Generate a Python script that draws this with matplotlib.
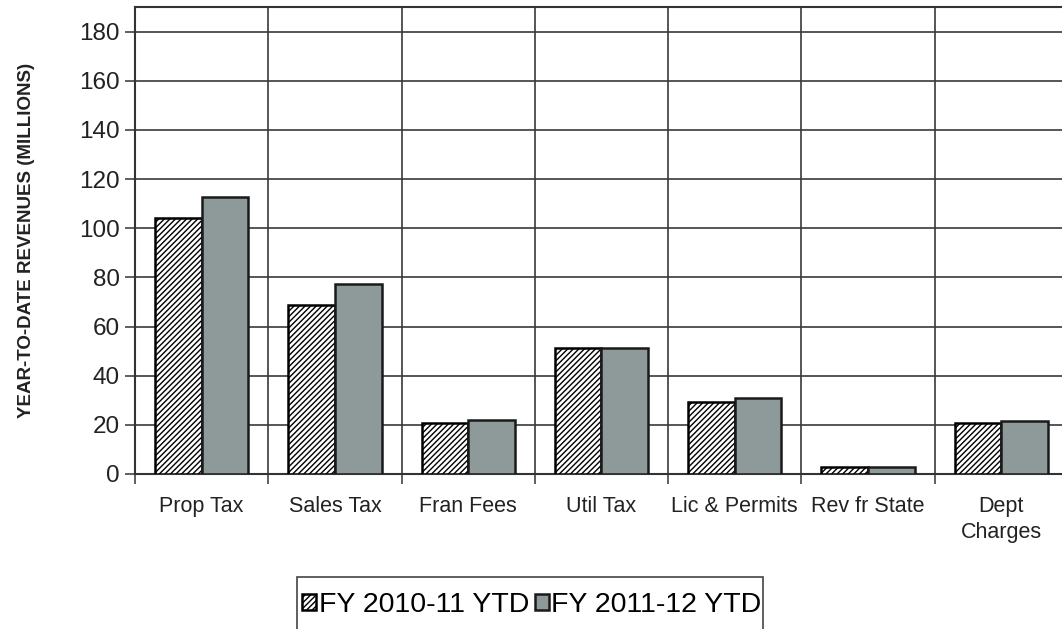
import numpy as np
import matplotlib
matplotlib.use("Agg")
import matplotlib.pyplot as plt
from matplotlib.ticker import FixedLocator
from matplotlib.patches import Rectangle

plt.rcParams['font.family'] = ['Liberation Sans', 'DejaVu Sans']
plt.rcParams['hatch.linewidth'] = 1.0

categories = ["Prop Tax", "Sales Tax", "Fran Fees", "Util Tax",
              "Lic & Permits", "Rev fr State", "Dept\nCharges"]
fy_2010_11 = [104.2, 68.8, 20.8, 51.3, 29.3, 2.8, 20.8]
fy_2011_12 = [112.8, 77.4, 22.0, 51.4, 31.0, 2.8, 21.6]
series_labels = ["FY 2010-11 YTD", "FY 2011-12 YTD"]

fig = plt.figure(figsize=(10.62, 6.29), dpi=100)
W, H = 1062, 629
# axes box in pixels: left 135, right ~1068 (runs off the picture), top 7, bottom 474
ax = fig.add_axes([135 / W, 1 - 474 / H, (1068 - 135) / W, (474 - 7) / H])

x = np.arange(len(categories))
w = 0.35
ax.bar(x - w / 2, fy_2010_11, width=w, facecolor='white', edgecolor='black',
       hatch='//////', linewidth=1.8, label=series_labels[0], zorder=3)
ax.bar(x + w / 2, fy_2011_12, width=w, facecolor='#8e9a99', edgecolor='#1a1a1a',
       linewidth=1.8, label=series_labels[1], zorder=3)

ax.set_xlim(-0.5, len(categories) - 0.5)
ax.set_ylim(0, 190)
ax.set_yticks(np.arange(0, 181, 20))

# category labels at centres, ticks/grid at category boundaries
ax.set_xticks(x)
ax.set_xticklabels(categories, fontsize=15.5, color='#222222', linespacing=1.3)
ax.tick_params(axis='x', which='major', length=0, pad=16)
ax.xaxis.set_minor_locator(FixedLocator(np.arange(-0.5, len(categories), 1.0)))
ax.tick_params(axis='x', which='minor', length=7, width=1.2, color='#444444')
ax.tick_params(axis='y', length=7, width=1.2, color='#444444', labelsize=17.5,
               labelcolor='#222222', pad=4)

ax.grid(axis='y', which='major', color='#3a3a3a', linewidth=1.2, zorder=0)
ax.grid(axis='x', which='minor', color='#3a3a3a', linewidth=1.2, zorder=0)
ax.set_axisbelow(True)

for s in ax.spines.values():
    s.set_color('#333333')
    s.set_linewidth(1.5)

ax.set_ylabel("YEAR-TO-DATE REVENUES (MILLIONS)", fontsize=13.5, fontweight='bold',
              color='#222222', labelpad=32)

# legend box runs off the bottom of the picture, so draw its frame separately
leg = fig.legend(loc='upper left', bbox_to_anchor=(302 / W, 1 - 592 / H), ncol=2,
                 fontsize=20.5, frameon=False,
                 handlelength=0.5, handleheight=0.5, handletextpad=0.08,
                 columnspacing=0.2, borderpad=0, borderaxespad=0)
fig.patches.append(Rectangle((297 / W, -0.05), (763 - 297) / W, (1 - 577 / H) + 0.05,
                             transform=fig.transFigure, facecolor='none',
                             edgecolor='#444444', linewidth=1.2))

fig.savefig("out.png", dpi=100)
